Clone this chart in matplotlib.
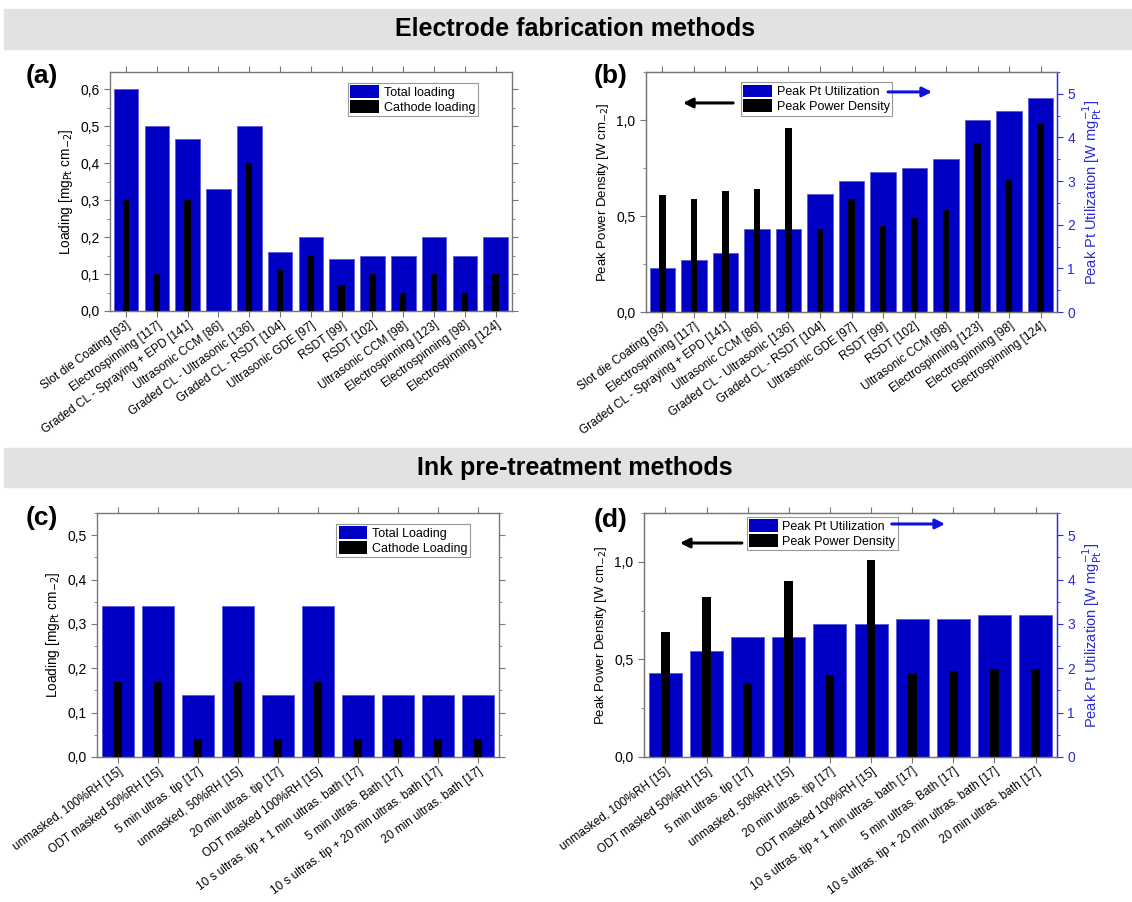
import numpy as np
import matplotlib
matplotlib.use("Agg")
import matplotlib.pyplot as plt
from matplotlib.patches import Rectangle, Patch
from matplotlib.ticker import MultipleLocator, FuncFormatter
from matplotlib import font_manager

plt.rcParams['font.family'] = ['Liberation Sans', 'DejaVu Sans']

# ---- data ----
fab_labels = ["Slot die Coating [93]", "Electrospinning [117]", "Graded CL - Spraying + EPD [141]",
              "Ultrasonic CCM [86]", "Graded CL - Ultrasonic [136]", "Graded CL - RSDT [104]",
              "Ultrasonic GDE [97]", "RSDT [99]", "RSDT [102]", "Ultrasonic CCM [98]",
              "Electrospinning [123]", "Electrospinning [98]", "Electrospinning [124]"]
fab_total = [0.6, 0.5, 0.465, 0.33, 0.5, 0.16, 0.2, 0.14, 0.15, 0.15, 0.2, 0.15, 0.2]
fab_cathode = [0.3, 0.1, 0.3, 0.0, 0.4, 0.11, 0.15, 0.07, 0.1, 0.05, 0.1, 0.05, 0.1]
fab_util = [1.01, 1.19, 1.35, 1.9, 1.9, 2.7, 3.0, 3.2, 3.31, 3.5, 4.41, 4.61, 4.9]
fab_power = [0.61, 0.59, 0.63, 0.64, 0.96, 0.43, 0.59, 0.45, 0.49, 0.53, 0.88, 0.69, 0.98]

ink_labels = ["unmasked, 100%RH [15]", "ODT masked 50%RH [15]", "5 min ultras. tip [17]",
              "unmasked, 50%RH [15]", "20 min ultras. tip [17]", "ODT masked 100%RH [15]",
              "10 s ultras. tip + 1 min ultras. bath [17]", "5 min ultras. Bath [17]",
              "10 s ultras. tip + 20 min ultras. bath [17]", "20 min ultras. bath [17]"]
ink_total = [0.34, 0.34, 0.14, 0.34, 0.14, 0.34, 0.14, 0.14, 0.14, 0.14]
ink_cathode = [0.17, 0.17, 0.04, 0.17, 0.04, 0.17, 0.04, 0.04, 0.04, 0.04]
ink_util = [1.9, 2.4, 2.7, 2.7, 3.0, 3.0, 3.1, 3.1, 3.2, 3.2]
ink_power = [0.64, 0.82, 0.38, 0.9, 0.42, 1.01, 0.43, 0.44, 0.45, 0.45]

BLUE = '#0000c4'
TXTBLUE = '#2a2ad8'
GRAY = '#777777'

installed = {f.name for f in font_manager.fontManager.ttflist}
HEAD_FONT = 'Liberation Sans Narrow' if 'Liberation Sans Narrow' in installed else 'Liberation Sans'

comma = FuncFormatter(lambda v, p: f"{v:.1f}".replace('.', ','))

fig = plt.figure(figsize=(11.32, 9.02), dpi=100)
W, H = 1132, 902


def px_axes(l, t, r, b):
    return fig.add_axes([l / W, 1 - b / H, (r - l) / W, (b - t) / H])


def style_frame(ax, right_ticks=True):
    for s in ax.spines.values():
        s.set_color(GRAY)
        s.set_linewidth(1.0)
    ax.tick_params(axis='both', which='both', direction='out', color=GRAY,
                   labelsize=10, top=True, right=right_ticks)
    ax.tick_params(which='major', length=4)
    ax.tick_params(which='minor', length=2.5)
    ax.tick_params(axis='x', labelsize=8.6, pad=2)


def set_xlabels(ax, labels):
    ax.set_xticks(np.arange(len(labels)))
    ax.set_xticklabels(labels, rotation=36, ha='right', rotation_mode='anchor')


def header(y_top, y_bot, text):
    fig.patches.append(Rectangle((4 / W, 1 - y_bot / H), 1 - 4 / W, (y_bot - y_top) / H,
                                 transform=fig.transFigure, color='#e2e2e2', zorder=0))
    size = 20 if HEAD_FONT.endswith('Narrow') else 18
    fig.text(0.508, 1 - (y_top + y_bot) / 2 / H, text, ha='center', va='center',
             fontsize=size, fontweight='bold', family=[HEAD_FONT, 'DejaVu Sans'])


def make_legend(ax, names, box):
    handles = [Patch(facecolor=BLUE), Patch(facecolor='black')]
    leg = ax.legend(handles, names, loc='upper left', bbox_to_anchor=box,
                    fontsize=9, frameon=True, fancybox=False, framealpha=1,
                    edgecolor='#999999', handlelength=2.3, handleheight=1.2,
                    handletextpad=0.35, borderpad=0.2, labelspacing=0.1, borderaxespad=0)
    leg.get_frame().set_linewidth(0.8)
    leg.set_zorder(5)


def loading_panel(ax, labels, total, cathode, ymax, leg_names, leg_box):
    x = np.arange(len(labels))
    ax.bar(x, total, width=0.8, color=BLUE, edgecolor='#5a5ad8', linewidth=0.6, zorder=2)
    ax.bar(x, cathode, width=0.21, color='black', zorder=3)
    ax.set_xlim(-0.52, len(labels) - 0.47)
    ax.set_ylim(0, ymax)
    ax.yaxis.set_major_locator(MultipleLocator(0.1))
    ax.yaxis.set_minor_locator(MultipleLocator(0.05))
    ax.yaxis.set_major_formatter(comma)
    style_frame(ax)
    set_xlabels(ax, labels)
    ax.set_ylabel(r'Loading [mg$_{\mathrm{Pt}}$ cm$_{\mathrm{-2}}$]', fontsize=9.8)
    make_legend(ax, leg_names, leg_box)


def power_panel(ax, labels, util, power, leg_box, black_arrow, blue_arrow):
    x = np.arange(len(labels))
    ax2 = ax.twinx()
    ax.set_zorder(ax2.get_zorder() + 1)
    ax.patch.set_visible(False)
    ax2.bar(x, util, width=0.8, color=BLUE, edgecolor='#5a5ad8', linewidth=0.6)
    ax.bar(x, power, width=0.21, color='black')
    ax.set_xlim(-0.52, len(labels) - 0.48)
    ax.set_ylim(0, 1.25)
    ax2.set_ylim(0, 5.5)
    ax.yaxis.set_major_locator(MultipleLocator(0.5))
    ax.yaxis.set_minor_locator(MultipleLocator(0.25))
    ax.yaxis.set_major_formatter(comma)
    ax2.yaxis.set_major_locator(MultipleLocator(1))
    ax2.yaxis.set_minor_locator(MultipleLocator(0.5))
    style_frame(ax, right_ticks=False)
    for s in ax2.spines.values():
        s.set_color(GRAY)
    ax2.spines['right'].set_color(TXTBLUE)
    ax.spines['right'].set_color(TXTBLUE)
    ax2.tick_params(axis='y', which='both', direction='out', color=TXTBLUE,
                    labelcolor=TXTBLUE, labelsize=10)
    ax2.tick_params(which='major', length=4)
    ax2.tick_params(which='minor', length=2.5)
    set_xlabels(ax, labels)
    ax.set_ylabel(r'Peak Power Density [W cm$_{\mathrm{-2}}$]', fontsize=9.5)
    ax2.set_ylabel(r'Peak Pt Utilization [W mg$_{\mathrm{Pt}}^{\mathrm{-1}}$]',
                   fontsize=10.5, color=TXTBLUE)
    make_legend(ax, ['Peak Pt Utilization', 'Peak Power Density'], leg_box)
    (bx0, bx1, by) = black_arrow
    ax.annotate('', xy=(bx1, by), xytext=(bx0, by), xycoords='axes fraction',
                arrowprops=dict(arrowstyle='-|>', color='black', lw=2.2,
                                mutation_scale=14, shrinkA=0, shrinkB=0), zorder=6)
    (ux0, ux1, uy) = blue_arrow
    ax.annotate('', xy=(ux1, uy), xytext=(ux0, uy), xycoords='axes fraction',
                arrowprops=dict(arrowstyle='-|>', color='#1010e0', lw=2.2,
                                mutation_scale=14, shrinkA=0, shrinkB=0), zorder=6)


header(9, 49, 'Electrode fabrication methods')
header(448, 487, 'Ink pre-treatment methods')

ax_a = px_axes(110, 72, 512, 311)
loading_panel(ax_a, fab_labels, fab_total, fab_cathode, 0.646,
              ['Total loading', 'Cathode loading'], (0.592, 0.955))

ax_b = px_axes(646, 72, 1057, 312)
power_panel(ax_b, fab_labels, fab_util, fab_power, (0.231, 0.958),
            (0.212, 0.09, 0.871), (0.589, 0.696, 0.917))

ax_c = px_axes(97, 513, 499, 757)
loading_panel(ax_c, ink_labels, ink_total, ink_cathode, 0.55,
              ['Total Loading', 'Cathode Loading'], (0.595, 0.955))

ax_d = px_axes(644, 513, 1057, 757)
power_panel(ax_d, ink_labels, ink_util, ink_power, (0.249, 0.984),
            (0.237, 0.087, 0.877), (0.600, 0.729, 0.955))

for lab, xp, yp in [('(a)', 42, 76), ('(b)', 611, 76), ('(c)', 42, 518), ('(d)', 611, 520)]:
    fig.text(xp / W, 1 - yp / H, lab, ha='center', va='center', fontsize=19, fontweight='bold')

fig.savefig('out.png', dpi=100, facecolor='white')
